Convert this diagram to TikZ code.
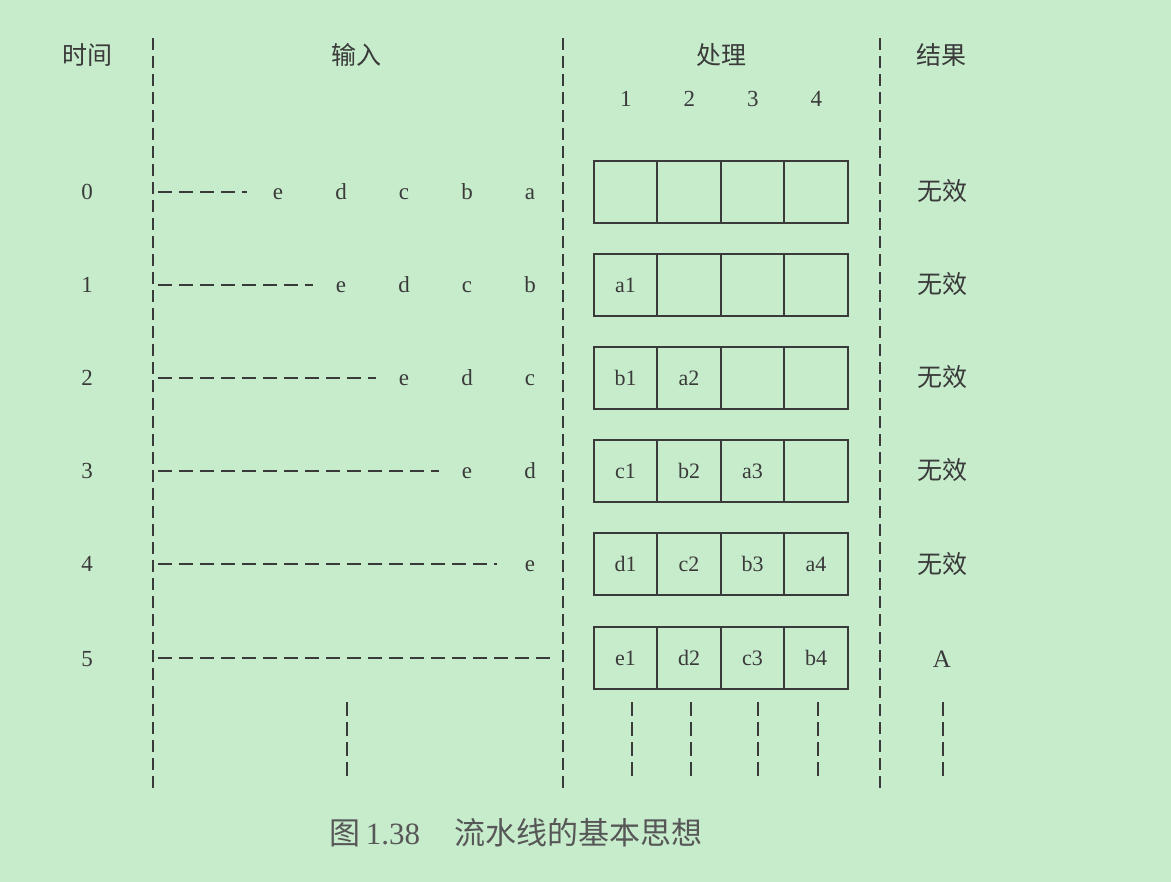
\documentclass[tikz,border=0pt]{standalone}
\usepackage{fontspec}
\setmainfont{Liberation Serif}
\newfontfamily\cjk{Noto Sans CJK SC}
\usepackage{tikz}
\usetikzlibrary{positioning}
\definecolor{pagegreen}{RGB}{199,236,204}
\definecolor{inkgrey}{RGB}{58,58,58}
\tikzset{my_diagram/.style={x=1pt,y=-1pt,inkgrey,text=inkgrey}}
\tikzset{my_cell/.style={draw, line width=1.6pt, minimum width=63.5pt, minimum height=62pt, inner sep=0pt, text height=15pt, text depth=0pt, font=\fontsize{22}{24}\selectfont}}
\tikzset{my_label/.style={inner sep=0pt, text height=16pt, text depth=0pt, font=\fontsize{23}{26}\selectfont}}
\tikzset{my_head/.style={inner sep=0pt, font=\cjk\fontsize{25}{28}\selectfont}}
\tikzset{my_rule/.style={line width=1.5pt, dash pattern=on 12pt off 6pt}}
\tikzset{my_queue/.style={line width=1.5pt, dash pattern=on 14pt off 7pt}}

\begin{document}
\begin{tikzpicture}[my_diagram]
    \useasboundingbox[fill=pagegreen] (0,0) rectangle (1171,882);
    %\draw[help lines] (0,0) grid (1171,882);
    % column headers
    \node[my_head] (time) at (87,55) {时间};
    \node[my_head] (input) at (356,55) {输入};
    \node[my_head] (proc) at (721,55) {处理};
    \node[my_head] (result) at (941,55) {结果};
    \foreach \k/\x in {1/625.75,2/689.25,3/752.75,4/816.25}
        \node[my_label] (stage\k) at (\x,99) {\k};

    % column rules
    \coordinate (top1) at (153,38);   \coordinate (bot1) at (153,793);
    \coordinate (top2) at (563,38);   \coordinate (bot2) at (563,793);
    \coordinate (top3) at (880,38);   \coordinate (bot3) at (880,793);
    \draw[my_rule] (top1) -- (bot1);
    \draw[my_rule] (top2) -- (bot2);
    \draw[my_rule] (top3) -- (bot3);

    % rows: time, input queue, pipeline, result
    \foreach \r/\y/\q/\c/\res in {%
        0/192/{e,d,c,b,a}/{{},{},{},{}}/{\cjk 无效},
        1/285/{e,d,c,b}/{a1,{},{},{}}/{\cjk 无效},
        2/378/{e,d,c}/{b1,a2,{},{}}/{\cjk 无效},
        3/471/{e,d}/{c1,b2,a3,{}}/{\cjk 无效},
        4/564/{e}/{d1,c2,b3,a4}/{\cjk 无效},
        5/658/{}/{e1,d2,c3,b4}/A}{
        \node[my_label] (t\r) at (87,\y) {\r};
        \coordinate (qs\r) at (158,\y);
        \foreach \l [count=\i] in \q {
            \node[my_label] (q\r\i) at ({530-63*(5-\r)+63*\i},\y) {\l};
        }
        \foreach \l [count=\j] in \c {
            \node[my_cell] (p\r\j) at ({562+63.5*\j},\y) {\l};
        }
        \node[my_label, font=\fontsize{25}{28}\selectfont] (res\r) at (942,\y+1) {\res};
    }
    \coordinate (qe0) at (247,192);
    \coordinate (qe1) at (313,285);
    \coordinate (qe2) at (376,378);
    \coordinate (qe3) at (439,471);
    \coordinate (qe4) at (497,564);
    \coordinate (qe5) at (557,658);
    \foreach \r in {0,...,5}
        \draw[my_queue] (qs\r) -- (qe\r);

    % the flow continues below
    \foreach \x [count=\n] in {347,632,691,758,818,943} {
        \coordinate (ds\n) at (\x,702);
        \coordinate (de\n) at (\x,778);
        \draw[my_rule, dash pattern=on 14pt off 6pt] (ds\n) -- (de\n);
    }

    \node[inner sep=0pt, text=inkgrey!85, font=\fontsize{31}{34}\selectfont] (caption) at (516,833)
        {{\cjk 图}\hspace{5pt}1.38\hspace{34pt}{\cjk 流水线的基本思想}};
\end{tikzpicture}
\end{document}
